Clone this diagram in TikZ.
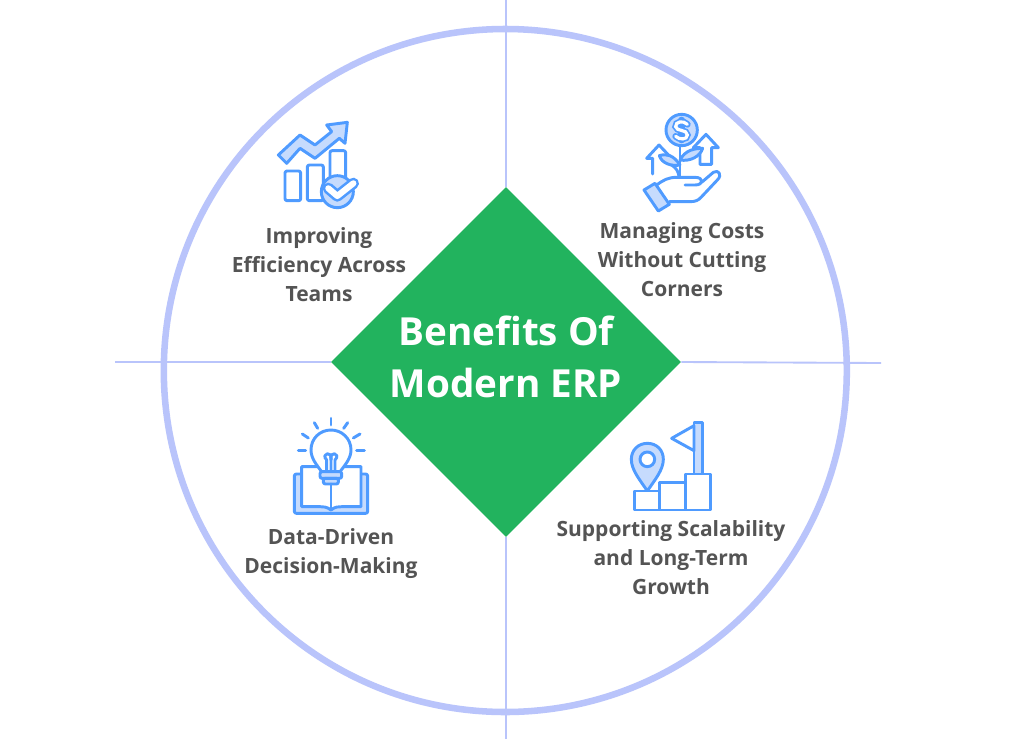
\documentclass[tikz,border=0pt]{standalone}
\usepackage{fontspec}
\usetikzlibrary{shapes.geometric}
\setmainfont{Open Sans}
\definecolor{ringc}{HTML}{B9C4FB}
\definecolor{diamc}{HTML}{22B35E}
\definecolor{iconc}{HTML}{4F9BFF}
\definecolor{iconf}{HTML}{C6DBFD}
\definecolor{txtc}{HTML}{545454}
\tikzset{
  ic/.style={draw=iconc,line width=2.2pt,line join=round,line cap=round},
  icfill/.style={ic,fill=iconf},
  icwhite/.style={ic,fill=white},
  lab/.style={align=center,text=txtc,font=\fontsize{15.75}{21.75}\selectfont\bfseries,inner sep=0pt},
  ttl/.style={align=center,text=white,font=\fontsize{29}{39}\selectfont\bfseries,inner sep=0pt},
  guide/.style={draw=ringc,line width=1.4pt}
}
\begin{document}
\begin{tikzpicture}[x=0.75pt,y=-0.75pt]
\useasboundingbox (0,0) rectangle (1024,739);
\fill[white] (0,0) rectangle (1024,739);
% guides
\coordinate (topEnd) at (506,0);
\coordinate (botEnd) at (506,739);
\coordinate (leftEnd) at (115,362);
\coordinate (rightEnd) at (881,363);
\node[draw=ringc,line width=4.9pt,circle,minimum size=512.25pt,inner sep=0pt] (ring) at (505.3,370.5) {};
\node[fill=diamc,diamond,aspect=1,minimum width=262.5pt,minimum height=262.5pt,inner sep=0pt] (hub) at (506,362) {};
\path[guide] (topEnd) -- (hub.north);
\path[guide] (botEnd) -- (hub.south);
\path[guide] (leftEnd) -- (hub.west);
\path[guide] (rightEnd) -- (hub.east);
\node[ttl] (title) at (506,356.5) {Benefits Of\\Modern ERP};
\node[lab] (l1) at (319,264.7) {Improving\\Efficiency Across\\Teams};
\node[lab] (l2) at (682,260) {Managing Costs\\Without Cutting\\Corners};
\node[lab] (l3) at (331,554) {Data-Driven\\Decision-Making};
\node[lab] (l4) at (671,557.5) {Supporting Scalability\\and Long-Term\\Growth};
% icon 1
\begin{scope}[shift={(260,110)},x=0.25pt,y=-0.25pt]
\path[icfill] (55,135)--(120,75)--(165,105)--(215,65)--(200,45)--(262,37)--(255,100)--(238,85)--(165,145)--(120,115)--(80,160)--cycle;
\path[ic,rounded corners=1.5pt] (75,272) rectangle (122,183);
\path[ic,rounded corners=1.5pt] (142,272) rectangle (190,165);
\path[ic,rounded corners=1.5pt] (210,210) -- (210,122) -- (257,122) -- (257,205);
\path[icfill] (232,245) circle (48);
\path[draw=iconc,line width=8.5pt,line cap=round,line join=round] (205,235)--(232,258)--(280,220);
\path[draw=white,line width=4.6pt,line cap=round,line join=round] (205,235)--(232,258)--(280,220);
\end{scope}
% icon 2
\begin{scope}[shift={(630,105)},x=0.25pt,y=-0.25pt]
\path[icfill] (155,75) circle (47);
\path[draw=iconc,line width=5pt,line cap=round] (172,58) .. controls (160,45) and (135,50) .. (137,65) .. controls (138,80) and (172,72) .. (172,90) .. controls (172,105) and (148,105) .. (137,94);
\path[draw=iconc,line width=5pt,line cap=round] (155,45)--(155,105);
\path[draw=white,line width=2.4pt,line cap=round] (172,58) .. controls (160,45) and (135,50) .. (137,65) .. controls (138,80) and (172,72) .. (172,90) .. controls (172,105) and (148,105) .. (137,94);
\path[ic] (68,207)--(68,160)--(50,160)--(87,120)--(125,160);
\path[ic] (210,178)--(210,128)--(190,128)--(228,88)--(265,128)--(245,128)--(245,178)--cycle;
\path[ic] (150,122)--(150,215);
\path[icfill] (150,180) .. controls (130,150) and (110,145) .. (88,152) .. controls (95,175) and (125,185) .. (150,180);
\path[icfill] (150,165) .. controls (165,135) and (195,130) .. (218,130) .. controls (210,155) and (180,170) .. (150,165);
\path[ic] (125,180) .. controls (140,190) and (145,200) .. (147,215);
\path[ic] (80,240) .. controls (100,225) and (115,217) .. (140,217) -- (195,217) .. controls (222,217) and (222,240) .. (195,240) -- (165,240);
\path[ic] (215,232) -- (250,202) .. controls (265,192) and (278,210) .. (262,225) -- (215,275) .. controls (205,287) and (195,290) .. (180,290) -- (118,290);
\path[icfill] (42,255)--(75,235)--(118,298)--(85,318)--cycle;
\end{scope}
% icon 3
\begin{scope}[shift={(285,410)},x=0.25pt,y=-0.25pt]
\foreach \a/\b/\c/\d in {138/25/138/45,88/38/98/55,188/38/176/55,52/72/70/84,225/72/205/84,40/122/62/122,215/122/238/122}
  \path[ic] (\a,\b)--(\c,\d);
\path[icfill,rounded corners=1.5pt] (28,192) rectangle (248,310);
\path[icwhite] (138,300) .. controls (125,290) and (115,290) .. (105,290) -- (50,290) -- (50,170) -- (228,170) -- (228,290) -- (171,290) .. controls (160,290) and (150,290) .. (138,300) -- cycle;
\path[icwhite] (110,185) .. controls (95,165) and (78,145) .. (78,120) .. controls (78,85) and (105,60) .. (138,60) .. controls (170,60) and (198,85) .. (198,120) .. controls (198,145) and (180,165) .. (165,185) -- cycle;
\path[ic] (125,185)--(125,150) .. controls (105,130) and (145,120) .. (138,150) -- (138,185);
\path[ic] (150,185)--(150,150) .. controls (170,130) and (130,120) .. (138,150);
\path[icfill,rounded corners=1.5pt] (105,185) rectangle (170,205);
\path[icfill,rounded corners=1.5pt] (115,205) rectangle (160,222);
\path[ic] (138,222)--(138,300);
\end{scope}
% icon 4
\begin{scope}[shift={(620,410)},x=0.25pt,y=-0.25pt]
\path[icfill] (222,37) rectangle (247,192);
\path[icwhite] (222,47)--(155,85)--(222,122)--cycle;
\path[icfill] (82,243) .. controls (60,210) and (34,180) .. (34,148) .. controls (34,120) and (55,100) .. (82,100) .. controls (110,100) and (130,120) .. (130,148) .. controls (130,180) and (104,210) .. (82,243) -- cycle;
\path[icwhite] (82,148) circle (22);
\path[icwhite] (43,243) rectangle (118,300);
\path[icwhite] (118,218) rectangle (197,300);
\path[icwhite] (197,192) rectangle (272,300);
\end{scope}
\end{tikzpicture}
\end{document}
